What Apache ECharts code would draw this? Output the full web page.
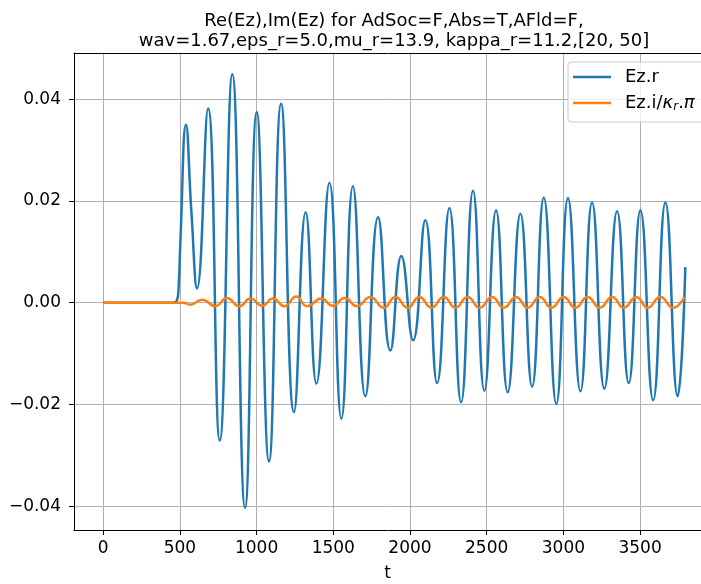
<!DOCTYPE html>
<html lang="en">
<head>
<meta charset="utf-8"/>
<title>Re(Ez), Im(Ez)</title>
<script src="https://cdn.jsdelivr.net/npm/echarts@6/dist/echarts.min.js"></script>
<style>
    html, body { margin: 0; padding: 0; background: #fff; }
    #chart { width: 701px; height: 584px; }
</style>
</head>
<body>
<div id="chart"></div>
<script>
    // values (t, value) – peaks, troughs and a few shape points
    var tReal = [0, 440, 480, 492, 503, 540, 575, 612, 684, 760, 842, 925, 1001, 1081, 1160, 1244, 1320, 1390, 1475,
        1553, 1628, 1709, 1792, 1872, 1944, 2020, 2100, 2177, 2257, 2333, 2411, 2485, 2561, 2637, 2720, 2796, 2872,
        2954, 3030, 3111, 3187, 3267, 3350, 3426, 3502, 3585, 3665, 3745, 3795];
    var ezReal = [0, 0, 0.0004, 0.003, 0.0117, 0.0350, 0.0180, 0.0028, 0.0382, -0.0271, 0.0449, -0.0403, 0.0375,
        -0.0312, 0.0391, -0.0215, 0.0178, -0.0159, 0.0236, -0.0228, 0.0229, -0.0184, 0.0168, -0.0094, 0.0092, -0.0074,
        0.0162, -0.0158, 0.0186, -0.0196, 0.0220, -0.0173, 0.0182, -0.0176, 0.0175, -0.0165, 0.0207, -0.0199, 0.0206,
        -0.0174, 0.0197, -0.0169, 0.0180, -0.0158, 0.0182, -0.0192, 0.0197, -0.0184, 0.0070];

    var tImag = [0, 520, 568, 645, 731, 807, 888, 960, 1036, 1107, 1181, 1259, 1329, 1422, 1496, 1574, 1655, 1742, 1829,
        1905, 1985, 2061, 2140, 2220, 2296, 2376, 2454, 2535, 2611, 2692, 2767, 2846, 2922, 3002, 3078, 3158, 3237,
        3318, 3393, 3476, 3550, 3632, 3715, 3789];
    var ezImag = [0, 0, -0.0004, 0.0006, -0.0007, 0.0009, -0.0007, 0.0008, -0.0006, 0.0008, -0.0007, 0.0012, -0.0007,
        0.0008, -0.0006, 0.0009, -0.0007, 0.0011, -0.001, 0.0011, -0.001, 0.0011, -0.001, 0.0011, -0.001, 0.0011,
        -0.001, 0.0011, -0.001, 0.0011, -0.001, 0.0011, -0.001, 0.0011, -0.001, 0.0011, -0.001, 0.0011, -0.001,
        0.0011, -0.001, 0.0011, -0.001, 0.0011];

    var xTicks = [0, 500, 1000, 1500, 2000, 2500, 3000, 3500];
    var yTicks = [-0.04, -0.02, 0, 0.02, 0.04];

    function pairs(xs, ys) {
        var out = [];
        for (var i = 0; i < xs.length; i++) out.push([xs[i], ys[i]]);
        return out;
    }

    var font = 'DejaVu Sans';
    var xMin = -190, xMax = 3897;
    var myChart = echarts.init(document.getElementById('chart'), null, {renderer: 'canvas'});

    var option = {
        animation: false,
        backgroundColor: '#fff',
        title: {
            text: 'Re(Ez),Im(Ez) for AdSoc=F,Abs=T,AFld=F,\nwav=1.67,eps_r=5.0,mu_r=13.9, kappa_r=11.2,[20, 50]',
            left: 394,
            top: 11,
            padding: 0,
            textAlign: 'center',
            textStyle: {fontFamily: font, fontSize: 18, fontWeight: 'normal', color: '#000', lineHeight: 20}
        },
        legend: {
            orient: 'vertical',
            left: 568,
            top: 62,
            padding: [6, 14, 9, 5],
            itemGap: 8,
            itemWidth: 38,
            itemHeight: 2.5,
            icon: 'rect',
            backgroundColor: 'rgba(255,255,255,0.8)',
            borderColor: '#cccccc',
            borderWidth: 1,
            borderRadius: 3,
            data: ['Ez.r', 'Ez.i'],
            formatter: function (name) {
                return name === 'Ez.r' ? '{n|Ez.r}' : '{n|Ez.i/}{k|κ}{s|r}{n|.}{k|π}';
            },
            textStyle: {
                fontFamily: font, fontSize: 18, color: '#000', padding: [0, 0, 0, 9],
                rich: {
                    n: {fontFamily: font, fontSize: 18, lineHeight: 20, color: '#000'},
                    k: {fontFamily: font, fontSize: 18, lineHeight: 20, fontStyle: 'italic', color: '#000'},
                    s: {fontFamily: font, fontSize: 12, lineHeight: 12, fontStyle: 'italic', verticalAlign: 'bottom', color: '#000'}
                }
            }
        },
        grid: {left: 74, top: 53, bottom: 54, right: 0, show: false, containLabel: false, outerBoundsMode: 'none'},
        xAxis: [{
            type: 'value',
            min: xMin,
            max: xMax,
            name: 't',
            nameLocation: 'middle',
            nameGap: 35,
            nameTextStyle: {fontFamily: font, fontSize: 17, color: '#000'},
            axisLine: {show: true, onZero: false, lineStyle: {color: '#000', width: 1}},
            axisTick: {show: true, length: 5, customValues: xTicks, lineStyle: {color: '#000'}},
            axisLabel: {
                customValues: xTicks, margin: 10, fontFamily: font, fontSize: 17, color: '#000',
                formatter: function (v) { return String(v); }
            },
            splitLine: {show: true, lineStyle: {color: '#b0b0b0', width: 1}}
        }, {
            type: 'value',
            position: 'top',
            min: xMin,
            max: xMax,
            axisLine: {show: true, onZero: false, lineStyle: {color: '#000', width: 1}},
            axisTick: {show: false},
            axisLabel: {show: false},
            splitLine: {show: false}
        }],
        yAxis: {
            type: 'value',
            min: -0.0447,
            max: 0.0491,
            axisLine: {show: true, onZero: false, lineStyle: {color: '#000', width: 1}},
            axisTick: {show: true, length: 5, customValues: yTicks, lineStyle: {color: '#000'}},
            axisLabel: {
                customValues: yTicks, margin: 13, fontFamily: font, fontSize: 17, color: '#000',
                formatter: function (v) { return v.toFixed(2).replace('-', '\u2212'); }
            },
            splitLine: {show: true, lineStyle: {color: '#b0b0b0', width: 1}}
        },
        series: [
            {
                name: 'Ez.r',
                type: 'line',
                xAxisIndex: 0,
                data: pairs(tReal, ezReal),
                smooth: 0.5,
                symbol: 'none',
                lineStyle: {color: '#1f77b4', width: 2.5},
                itemStyle: {color: '#1f77b4'},
                z: 2
            },
            {
                name: 'Ez.i',
                type: 'line',
                xAxisIndex: 0,
                data: pairs(tImag, ezImag),
                smooth: 0.5,
                symbol: 'none',
                lineStyle: {color: '#ff7f0e', width: 2.5},
                itemStyle: {color: '#ff7f0e'},
                z: 3
            }
        ]
    };

    myChart.setOption(option, true);
</script>
</body>
</html>
